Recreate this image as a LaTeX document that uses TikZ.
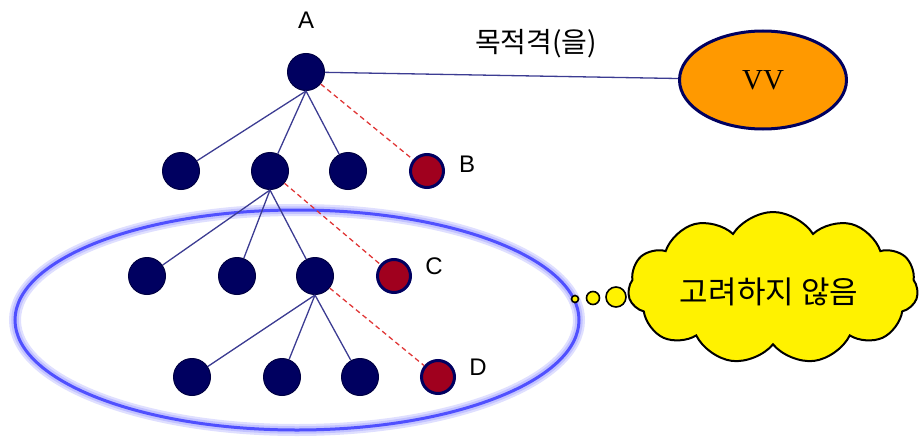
\documentclass[tikz,border=0pt]{standalone}
\usepackage{fontspec}
\setmainfont{Liberation Sans}
\newfontfamily\kfont{Noto Sans CJK KR}
\newfontfamily\serfont{Liberation Serif}
\usetikzlibrary{shapes.symbols,shapes.geometric}
\definecolor{navy}{HTML}{000060}
\definecolor{crim}{HTML}{A0001E}
\definecolor{edgec}{HTML}{3C3C92}
\definecolor{dashc}{HTML}{E03838}
\definecolor{glow}{HTML}{5050FF}
\definecolor{orng}{HTML}{FF9900}
\tikzset{
  dot/.style={circle, fill=navy, draw=navy!70!black, line width=1pt, minimum size=37pt, inner sep=0pt},
  reddot/.style={circle, fill=crim, draw=navy, line width=3pt, minimum size=33pt, inner sep=0pt},
  lbl/.style={font=\fontsize{24}{26}\selectfont, inner sep=0pt},
  klbl/.style={font=\kfont\fontsize{28}{30}\selectfont, inner sep=0pt},
  tedge/.style={draw=edgec, line width=1.3pt},
  dedge/.style={draw=dashc, line width=1.3pt, dash pattern=on 5pt off 3.5pt},
  bubble/.style={circle, fill=yellow, draw=black, line width=1.6pt, inner sep=0pt},
}
\begin{document}
\begin{tikzpicture}[x=1pt,y=-1pt]
\useasboundingbox (0,0) rectangle (920,436);
% glow ellipse
\draw[glow!18, line width=12pt] (297,320) ellipse [x radius=282, y radius=110];
\draw[glow!35, line width=7.5pt] (297,320) ellipse [x radius=282, y radius=110];
\draw[glow, line width=3pt] (297,320) ellipse [x radius=282, y radius=110];

\node[dot] (A) at (306,72) {};
\node[lbl] (Al) at (306,20) {A};

\node[dot] (n1) at (181,171) {};
\node[dot] (n2) at (270,171) {};
\node[dot] (n3) at (348,171) {};
\node[reddot] (B) at (427,171) {};
\node[lbl] (Bl) at (467,164) {B};

\node[dot] (m1) at (147,276) {};
\node[dot] (m2) at (237,276) {};
\node[dot] (m3) at (315,276) {};
\node[reddot] (C) at (394,276) {};
\node[lbl] (Cl) at (434,266) {C};

\node[dot] (k1) at (192,377) {};
\node[dot] (k2) at (282,377) {};
\node[dot] (k3) at (360,377) {};
\node[reddot] (D) at (438,377) {};
\node[lbl] (Dl) at (478,367) {D};

% edges
\draw[tedge] (A.south) -- (n1);
\draw[tedge] (A.south) -- (n2);
\draw[tedge] (A.south) -- (n3);
\draw[dedge] (A) -- (B);
\draw[tedge] (n2.south) -- (m1);
\draw[tedge] (n2.south) -- (m2);
\draw[tedge] (n2.south) -- (m3);
\draw[dedge] (n2) -- (C);
\draw[tedge] (m3.south) -- (k1);
\draw[tedge] (m3.south) -- (k2);
\draw[tedge] (m3.south) -- (k3);
\draw[dedge] (m3) -- (D);

% VV
\node[ellipse, fill=orng, draw=navy, line width=3pt, minimum width=167pt, minimum height=98pt, inner sep=0pt,
      font=\serfont\fontsize{29}{30}\selectfont] (VV) at (763,80) {VV};
\draw[tedge] (A) -- (VV);
\node[klbl] (obj) at (536,44) {목적격(을)};

% thought bubble
\node[cloud, cloud puffs=11, cloud puff arc=115, aspect=2, fill=yellow, draw=black, line width=2pt,
      minimum width=290pt, minimum height=152pt, inner sep=0pt] (cl) at (773,288) {};
\node[klbl, font=\kfont\fontsize{31}{33}\selectfont] (cltext) at (769,292) {고려하지 않음};
\node[bubble, minimum size=7pt] (b1) at (575,299) {};
\node[bubble, minimum size=13pt] (b2) at (593,298) {};
\node[bubble, minimum size=20pt] (b3) at (616,297) {};
\end{tikzpicture}
\end{document}
